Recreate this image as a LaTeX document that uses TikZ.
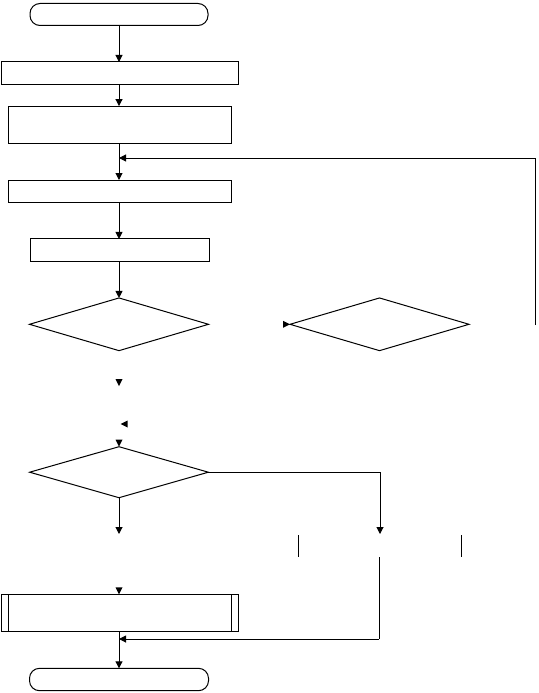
\documentclass[tikz,border=0pt]{standalone}
\usetikzlibrary{shapes.geometric,arrows.meta,calc}
\begin{document}
\begin{tikzpicture}[x=1pt,y=-1pt,
  every node/.style={inner sep=0pt,outer sep=0pt,line width=1pt},
  termbox/.style={draw,rectangle,rounded corners=10pt,minimum width=178pt,minimum height=22pt},
  procbox/.style={draw,rectangle},
  decbox/.style={draw,diamond,aspect=3.4},
  conn/.style={line width=1pt},
  arr/.style={conn,-{Triangle[width=7pt,length=7pt]}},
  headfill/.style={fill=black}]
\useasboundingbox (0,0) rectangle (538,693);
% nodes
\node[termbox] (t1) at (119,14.5) {};
\node[procbox,minimum width=237pt,minimum height=22pt] (b2) at (120.3,73) {};
\node[procbox,minimum width=223pt,minimum height=37.5pt] (b3) at (119.7,124.8) {};
\node[procbox,minimum width=223pt,minimum height=22pt] (b4) at (119.7,191) {};
\node[procbox,minimum width=179pt,minimum height=22.7pt] (b5) at (119.5,250.3) {};
\node[decbox,minimum width=179pt,minimum height=52.7pt] (d1) at (119,324.3) {};
\node[decbox,minimum width=179pt,minimum height=52.7pt] (d2) at (379.5,324.3) {};
\node[decbox,minimum width=178.7pt,minimum height=51pt] (d3) at (119,472.2) {};
\node[procbox,minimum width=237pt,minimum height=36.7pt] (b6) at (120.3,612.7) {};
\draw[conn] ([xshift=6.6pt]b6.north west) -- ([xshift=6.6pt]b6.south west);
\draw[conn] ([xshift=-7.7pt]b6.north east) -- ([xshift=-7.7pt]b6.south east);
\node[termbox,minimum width=179pt,minimum height=22.4pt] (t2) at (119,679.5) {};
% coordinates
\coordinate (loopstart) at (535.5,325);
\coordinate (loopjoin) at (119,158);
\coordinate (d3out) at (119,534);
\coordinate (rturn) at (380,472.2);
\coordinate (rend) at (380,534);
\coordinate (r2start) at (379,557);
\coordinate (r2turn) at (379,639);
\coordinate (r2join) at (119,639);
% main connectors
\draw[arr] (t1.south) -- (t1.south |- b2.north);
\draw[arr] (t1.south |- b2.south) -- (t1.south |- b3.north);
\draw[arr] (t1.south |- b3.south) -- (t1.south |- b4.north);
\draw[arr] (t1.south |- b4.south) -- (t1.south |- b5.north);
\draw[arr] (t1.south |- b5.south) -- (d1.north);
\draw[conn] (loopstart) -- (535.5,158);
\draw[arr] (535.5,158) -- (loopjoin);
\draw[arr] (d3.south) -- (d3out);
\draw[conn] (d3.east) -- (rturn);
\draw[arr] (rturn) -- (rend);
\draw[conn] (298.3,535) -- (298.3,557.3);
\draw[conn] (461.7,535) -- (461.7,557.3);
\draw[conn] (r2start) -- (r2turn);
\draw[arr] (r2turn) -- (r2join);
\draw[arr] (t2.north |- b6.south) -- (t2.north);
% stray arrow heads
\fill[headfill] (d2.west) -- ++(-7,-3.5) -- ++(0,7) -- cycle;
\fill[headfill] (119,386) -- ++(-3.5,-7) -- ++(7,0) -- cycle;
\fill[headfill] (120.7,424) -- ++(7,-3.5) -- ++(0,7) -- cycle;
\fill[headfill] (d3.north) -- ++(-3.5,-7) -- ++(7,0) -- cycle;
\fill[headfill] (t2.north |- b6.north) -- ++(-3.5,-7) -- ++(7,0) -- cycle;
\end{tikzpicture}
\end{document}
